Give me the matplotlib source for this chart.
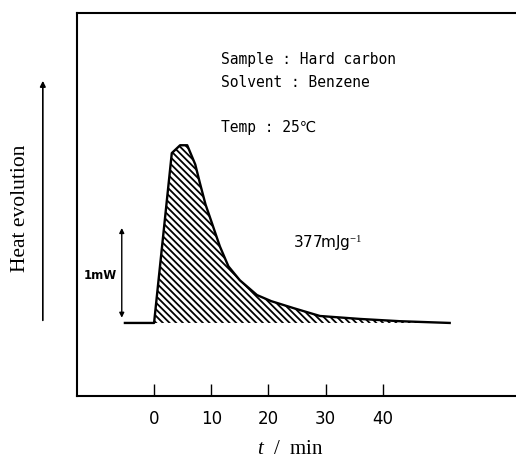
import matplotlib.pyplot as plt
from matplotlib.patches import FancyArrowPatch

# ---------------------------------------------------------------------------
# Data (t in min, heat flow in mW above baseline)

t_curve = [-5.1, 0.0, 3.1, 4.55, 5.8, 7.2, 8.0, 9.0, 10.1, 11.5, 13.0, 15.0,
           18.0, 20.5, 24.4, 29.0, 36.0, 43.0, 46.5, 51.7]
heat_curve = [0.0, 0.0, 1.95, 2.04, 2.04, 1.82, 1.61, 1.36, 1.15, 0.88, 0.65,
              0.49, 0.32, 0.25, 0.17, 0.08, 0.046, 0.02, 0.012, 0.0]
hatch_end = 46.5

x_ticks = [0, 10, 20, 30, 40]
info_lines = ["Sample : Hard carbon", "Solvent : Benzene", "Temp : 25\u2103"]
area_label = "377mJg$^{-1}$"

narrow = ["Liberation Sans Narrow", "DejaVu Sans"]

plt.rcParams["mathtext.fontset"] = "custom"
plt.rcParams["mathtext.rm"] = "Liberation Serif"
plt.rcParams["mathtext.it"] = "Liberation Serif:italic"
plt.rcParams["hatch.linewidth"] = 1.3

fig = plt.figure(figsize=(5.16, 4.59), dpi=100)
ax = fig.add_axes([0.149, 0.137, 0.851, 0.835])

# curve + hatched area
ax.plot(t_curve, heat_curve, color="black", linewidth=1.7)
t_fill = [t for t in t_curve if 0 <= t <= hatch_end]
h_fill = [h for t, h in zip(t_curve, heat_curve) if 0 <= t <= hatch_end]
ax.fill_between(t_fill, 0, h_fill, facecolor="none", edgecolor="black",
                hatch="\\" * 5, linewidth=0)

# 1 mW scale bar
ax.annotate("", xy=(-5.65, 1.09), xytext=(-5.65, 0.06),
            arrowprops=dict(arrowstyle="<|-|>", color="black", lw=1.0,
                            mutation_scale=7, shrinkA=0, shrinkB=0))
ax.text(-6.5, 0.54, "1mW", ha="right", va="center", fontsize=8.5,
        family=narrow, fontweight="bold")

# annotations
for txt, y in zip(info_lines, [3.03, 2.76, 2.24]):
    ax.text(11.7, y, txt, ha="left", va="center", fontsize=10.5,
            family=["DejaVu Sans Mono", "DejaVu Sans"])
ax.text(24.3, 0.92, area_label, ha="left", va="center", fontsize=11,
        family=narrow)

ax.set_xlim(-13.5, 63.3)
ax.set_ylim(-0.84, 3.56)
ax.set_xticks(x_ticks)
ax.set_xticklabels([str(v) for v in x_ticks], family=narrow, fontsize=12)
ax.set_yticks([])
ax.tick_params(axis="x", direction="in", length=9, width=1.0, pad=10)
ax.spines["right"].set_visible(False)
for s in ["left", "top", "bottom"]:
    ax.spines[s].set_linewidth(1.5)

# y-direction arrow and labels outside the axes
fig.patches.append(FancyArrowPatch(
    (0.083, 0.296), (0.083, 0.830), transform=fig.transFigure,
    arrowstyle="-|>", mutation_scale=8, color="black", lw=1.2))
fig.text(0.040, 0.546, "Heat evolution", rotation=90, ha="center", va="center",
         fontsize=15.5, family="Liberation Serif")
fig.text(0.562, 0.02, "$t$  /  min", ha="center", va="center", fontsize=15,
         family="Liberation Serif")

fig.savefig("out.png", dpi=100)
